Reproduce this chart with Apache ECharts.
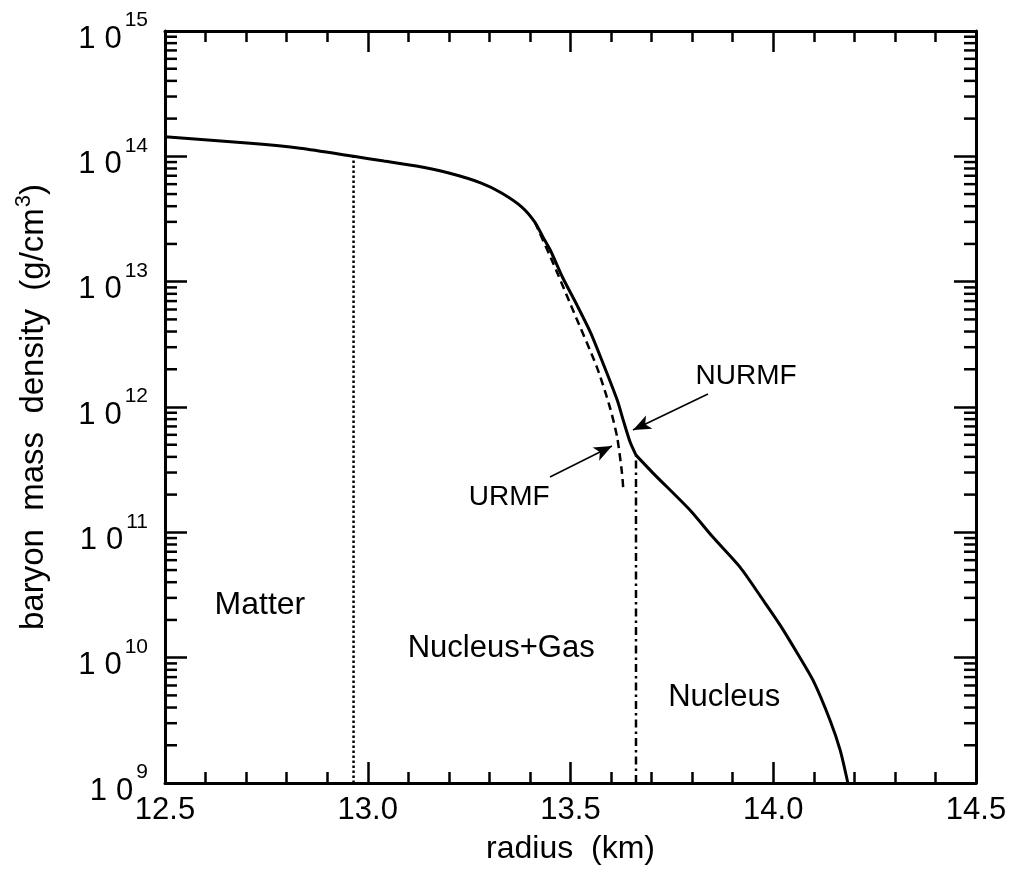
<!DOCTYPE html>
<html><head><meta charset="utf-8">
<script src="https://cdn.jsdelivr.net/npm/echarts@6/dist/echarts.min.js"></script>
<style>html,body{margin:0;padding:0;background:#fff}#c{width:1020px;height:890px}</style>
</head><body><div id="c"></div>
<script>
// ---- data ----
// NURMF (solid): inner branch down to the kink, then the nucleus branch
const radiusNURMF  = [12.5, 12.71, 12.833, 12.965, 13.04, 13.12, 13.20, 13.28, 13.33, 13.38, 13.412, 13.432, 13.45, 13.48, 13.516, 13.55, 13.58, 13.615, 13.63, 13.647, 13.6615];
const densityNURMF = [1.43e14, 1.27e14, 1.16e14, 1.00e14, 9.17e13, 8.37e13, 7.36e13, 6.12e13, 5.10e13, 3.94e13, 2.99e13, 2.27e13, 1.79e13, 1.09e13, 6.50e12, 3.89e12, 2.24e12, 1.14e12, 7.86e11, 5.25e11, 4.13e11];
const radiusOuter  = [13.6615, 13.7035, 13.795, 13.851, 13.918, 13.975, 14.017, 14.059, 14.098, 14.14, 14.165, 14.184];
const densityOuter = [4.13e11, 2.97e11, 1.50e11, 9.16e10, 5.28e10, 2.88e10, 1.82e10, 1.09e10, 6.61e9, 3.17e9, 1.83e9, 1.0e9];
// URMF (dashed)
const radiusURMF   = [13.412, 13.457, 13.506, 13.565, 13.597, 13.615, 13.627, 13.630];
const densityURMF  = [2.99e13, 1.41e13, 5.93e12, 2.08e12, 9.98e11, 5.75e11, 2.97e11, 2.25e11];
// phase boundaries
const matterBoundaryR = 12.965, matterBoundaryTop = 1.0e14;
const nucleusBoundaryR = 13.6615, nucleusBoundaryTop = 4.13e11;
// axes
const xMin = 12.5, xMax = 14.5, xStep = 0.5;
const yMin = 1e9, yMax = 1e15;
// annotations
const regionLabels = ['Matter', 'Nucleus+Gas', 'Nucleus'];
const regionLabelR = [12.734, 13.329, 13.879];
const regionLabelRho = [2.62e10, 1.19e10, 4.84e9];
const modelLabels = ['NURMF', 'URMF'];
const modelLabelR = [13.933, 13.349];
const modelLabelRho = [1.77e12, 1.91e11];
const arrowFromR = [13.839, 13.4494];
const arrowFromRho = [1.27e12, 2.76e11];
const arrowToR = [13.6541, 13.6023];
const arrowToRho = [6.55e11, 4.88e11];
// ---- end data ----

const FONT = '"Liberation Sans", Arial, Helvetica, sans-serif';
const zip = (a, b) => a.map((v, i) => [v, b[i]]);
const minorY = [];
for (let e = 9; e < 15; e++) for (let m = 2; m <= 9; m++) minorY.push([xMin, m * Math.pow(10, e)]);

const axisLine = { show: true, onZero: false, lineStyle: { color: '#000', width: 3 } };
function xAx(pos, labels) {
  return {
    type: 'value', position: pos, min: xMin, max: xMax, interval: xStep,
    axisLine, splitLine: { show: false },
    axisTick: { show: true, inside: true, length: 21, lineStyle: { color: '#000', width: 2.5 } },
    minorTick: { show: true, splitNumber: 5, length: 11, lineStyle: { color: '#000', width: 2.5 } },
    minorSplitLine: { show: false },
    axisLabel: { show: labels, formatter: v => v.toFixed(1), color: '#000', fontSize: 31, fontFamily: FONT, margin: 12 },
    name: labels ? 'radius  (km)' : '', nameLocation: 'middle', nameGap: 50,
    nameTextStyle: { color: '#000', fontSize: 32, fontFamily: FONT }
  };
}
function yAx(pos, labels) {
  return {
    type: 'log', logBase: 10, position: pos, min: yMin, max: yMax, splitNumber: 6,
    axisLine, splitLine: { show: false }, minorTick: { show: false },
    axisTick: { show: true, inside: true, length: 22, lineStyle: { color: '#000', width: 2.5 } },
    axisLabel: {
      show: labels, margin: 17, color: '#000', fontFamily: FONT,
      formatter: v => '{a|1}{b|0}{s|' + Math.round(Math.log10(v)) + '}',
      rich: {
        a: { fontSize: 31, fontFamily: FONT, color: '#000', padding: [16, 9, 0, 0] },
        b: { fontSize: 31, fontFamily: FONT, color: '#000', padding: [16, 3, 0, 0] },
        s: { fontSize: 21, fontFamily: FONT, color: '#000', padding: [0, 0, 21, 0] }
      }
    },
    name: labels ? 'baryon  mass  density  (g/cm{s|3})' : '', nameLocation: 'middle', nameGap: 110, nameRotate: 90,
    nameTextStyle: { color: '#000', fontSize: 33, fontFamily: FONT,
      rich: { s: { fontSize: 22, fontFamily: FONT, color: '#000', padding: [0, 0, 20, 1] } } }
  };
}
function textSeries(names, rs, rhos, size) {
  return {
    type: 'custom', silent: true, clip: false, z: 10,
    data: rs.map((r, i) => [r, rhos[i]]),
    renderItem: (params, api) => {
      const c = api.coord([api.value(0), api.value(1)]);
      return { type: 'text', x: c[0], y: c[1],
        style: { text: names[params.dataIndex], fill: '#000', fontSize: size, fontFamily: FONT, align: 'center', verticalAlign: 'middle' } };
    }
  };
}

const chart = echarts.init(document.getElementById('c'), null, { renderer: 'canvas' });
chart.setOption({
  animation: false,
  backgroundColor: '#fff',
  grid: { left: 165, right: 44, top: 31, bottom: 107, containLabel: false },
  xAxis: [xAx('bottom', true), xAx('top', false)],
  yAxis: [yAx('left', true), yAx('right', false)],
  series: [
    { type: 'line', name: 'NURMF', data: zip(radiusNURMF, densityNURMF), showSymbol: false, smooth: 0.25,
      lineStyle: { color: '#000', width: 3 }, z: 5 },
    { type: 'line', name: 'NURMF', data: zip(radiusOuter, densityOuter), showSymbol: false, smooth: 0.25,
      lineStyle: { color: '#000', width: 3 }, z: 5 },
    { type: 'line', name: 'URMF', data: zip(radiusURMF, densityURMF), showSymbol: false, smooth: 0.25,
      lineStyle: { color: '#000', width: 2.5, type: [8, 5] }, z: 4,
      markLine: {
        silent: true, symbol: ['none', 'arrow'], symbolSize: [11, 18],
        label: { show: false },
        lineStyle: { color: '#000', width: 1.6, type: 'solid' },
        data: arrowFromR.map((r, i) => [{ coord: [r, arrowFromRho[i]] }, { coord: [arrowToR[i], arrowToRho[i]] }])
      } },
    { type: 'line', data: [[matterBoundaryR, yMin], [matterBoundaryR, matterBoundaryTop]], showSymbol: false,
      lineStyle: { color: '#000', width: 2.5, type: [2.5, 2.5] } },
    { type: 'line', data: [[nucleusBoundaryR, yMin], [nucleusBoundaryR, nucleusBoundaryTop]], showSymbol: false,
      lineStyle: { color: '#000', width: 2.5, type: [8, 4, 2.5, 4] } },
    textSeries(regionLabels.slice(0, 1), regionLabelR.slice(0, 1), regionLabelRho.slice(0, 1), 32),
    textSeries(regionLabels.slice(1), regionLabelR.slice(1), regionLabelRho.slice(1), 31),
    textSeries(modelLabels, modelLabelR, modelLabelRho, 28),
    { type: 'custom', data: minorY, clip: false, silent: true,
      renderItem: (params, api) => {
        const v = api.value(1);
        const pl = api.coord([xMin, v]);
        const pr = api.coord([xMax, v]);
        return { type: 'group', children: [
          { type: 'line', shape: { x1: pl[0], y1: pl[1], x2: pl[0] + 12, y2: pl[1] }, style: { stroke: '#000', lineWidth: 2.5 } },
          { type: 'line', shape: { x1: pr[0] - 12, y1: pr[1], x2: pr[0], y2: pr[1] }, style: { stroke: '#000', lineWidth: 2.5 } }
        ] };
      } }
  ]
});
</script></body></html>
